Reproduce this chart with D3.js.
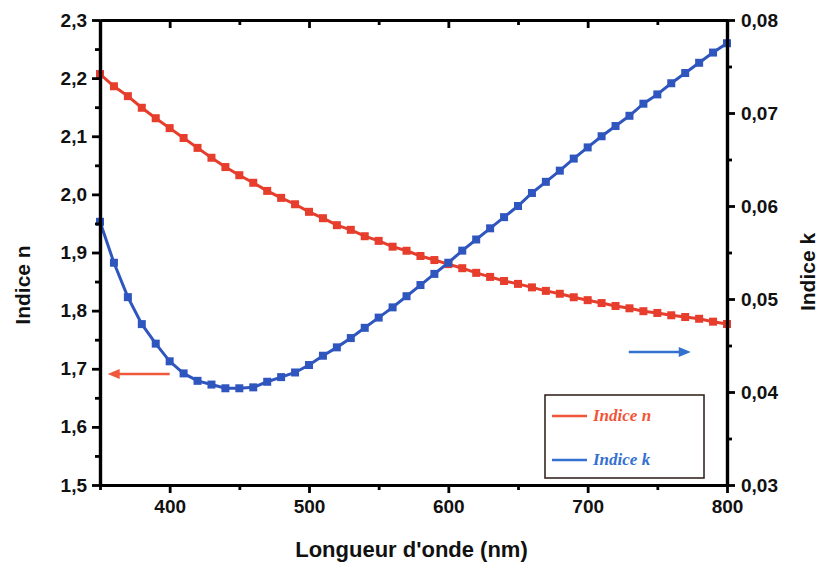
<!DOCTYPE html>
<html><head><meta charset="utf-8">
<script src="https://cdn.jsdelivr.net/npm/d3@7"></script>
<style>body{margin:0;background:#fff;} svg{display:block;}</style>
</head><body>
<svg id="c" width="821" height="567"></svg>
<script>
const wavelengths = d3.range(350, 801, 10);
const indexN = [2.207,2.186,2.169,2.149,2.131,2.114,2.097,2.080,2.063,2.047,
  2.033,2.020,2.006,1.994,1.983,1.970,1.959,1.947,1.939,1.928,
  1.920,1.910,1.903,1.894,1.887,1.880,1.873,1.865,1.858,1.851,
  1.846,1.840,1.834,1.829,1.823,1.818,1.813,1.808,1.804,1.799,
  1.796,1.792,1.789,1.786,1.781,1.777];
const indexK = [0.0583,0.0539,0.0502,0.0473,0.0452,0.0433,0.0420,0.0412,0.0408,0.0404,
  0.0404,0.0405,0.0411,0.0416,0.0421,0.0429,0.0439,0.0448,0.0458,0.0469,
  0.0480,0.0491,0.0503,0.0515,0.0527,0.0539,0.0552,0.0564,0.0576,0.0588,
  0.0600,0.0614,0.0626,0.0638,0.0651,0.0663,0.0675,0.0686,0.0697,0.0710,
  0.0720,0.0732,0.0743,0.0754,0.0765,0.0775];
const xTicks = [400,500,600,700,800];
const xMinor = [350,450,550,650,750];
const nTicks = [1.5,1.6,1.7,1.8,1.9,2.0,2.1,2.2,2.3];
const nMinor = [1.55,1.65,1.75,1.85,1.95,2.05,2.15,2.25];
const kTicks = [0.03,0.04,0.05,0.06,0.07,0.08];
const kMinor = [0.035,0.045,0.055,0.065,0.075];
const seriesNames = ["Indice n","Indice k"];

const RED = "#e63d2c", BLUE = "#2f56bf";
const loc = d3.formatLocale({decimal:",", thousands:".", grouping:[3], currency:["","€"]});
const fN = loc.format(".1f"), fK = loc.format(".2f");

const svg = d3.select("#c");
const L=100, R=727, T=20, B=485;
const x = d3.scaleLinear().domain([350,800]).range([L,R]);
const yN = d3.scaleLinear().domain([1.5,2.3]).range([B,T]);
const yK = d3.scaleLinear().domain([0.03,0.08]).range([B,T]);

const FONT = "'Liberation Sans', Arial, sans-serif";

function styleAxis(g){
  g.select(".domain").attr("stroke","#000").attr("stroke-width",3.2);
  g.selectAll(".tick line").attr("stroke","#000").attr("stroke-width",2.8);
  g.selectAll("text").attr("font-family",FONT).attr("font-weight","bold").attr("font-size",19).attr("fill","#111");
}

const nData = wavelengths.map((w,i)=>({w, v:indexN[i]}));
const kData = wavelengths.map((w,i)=>({w, v:indexK[i]}));
const MS = 8;

svg.append("path").datum(nData)
  .attr("fill","none").attr("stroke",RED).attr("stroke-width",3)
  .attr("d", d3.line().x(d=>x(d.w)).y(d=>yN(d.v)));
svg.append("g").selectAll("rect").data(nData).join("rect")
  .attr("x",d=>x(d.w)-MS/2).attr("y",d=>yN(d.v)-MS/2).attr("width",MS).attr("height",MS)
  .attr("fill",RED);

svg.append("path").datum(kData)
  .attr("fill","none").attr("stroke",BLUE).attr("stroke-width",3)
  .attr("d", d3.line().x(d=>x(d.w)).y(d=>yK(d.v)));
svg.append("g").selectAll("rect").data(kData).join("rect")
  .attr("x",d=>x(d.w)-MS/2).attr("y",d=>yK(d.v)-MS/2).attr("width",MS).attr("height",MS)
  .attr("fill",BLUE);

svg.append("g").attr("transform",`translate(0,${B})`)
  .call(d3.axisBottom(x).tickValues(xTicks).tickSize(8).tickSizeOuter(0).tickPadding(7).tickFormat(d3.format("d"))).call(styleAxis);
svg.append("g").attr("transform",`translate(0,${B})`)
  .call(d3.axisBottom(x).tickValues(xMinor).tickSize(5).tickSizeOuter(0).tickFormat("")).call(styleAxis);
svg.append("g").attr("transform",`translate(0,${T})`)
  .call(d3.axisBottom(x).tickValues(xTicks).tickSize(8).tickSizeOuter(0).tickFormat("")).call(styleAxis);
svg.append("g").attr("transform",`translate(0,${T})`)
  .call(d3.axisBottom(x).tickValues(xMinor.slice(1)).tickSize(5).tickSizeOuter(0).tickFormat("")).call(styleAxis);

svg.append("g").attr("transform",`translate(${L},0)`)
  .call(d3.axisLeft(yN).tickValues(nTicks).tickSize(8).tickSizeOuter(0).tickPadding(5).tickFormat(fN)).call(styleAxis);
svg.append("g").attr("transform",`translate(${L},0)`)
  .call(d3.axisLeft(yN).tickValues(nMinor).tickSize(5).tickSizeOuter(0).tickFormat("")).call(styleAxis);

svg.append("g").attr("transform",`translate(${R},0)`)
  .call(d3.axisRight(yK).tickValues(kTicks).tickSize(8).tickSizeOuter(0).tickPadding(6).tickFormat(fK)).call(styleAxis);
svg.append("g").attr("transform",`translate(${R},0)`)
  .call(d3.axisRight(yK).tickValues(kMinor).tickSize(5).tickSizeOuter(0).tickFormat("")).call(styleAxis);

svg.append("text").attr("x",(L+R)/2-2).attr("y",557).attr("text-anchor","middle")
  .attr("font-family",FONT).attr("font-weight","bold").attr("font-size",22).attr("fill","#111")
  .text("Longueur d'onde (nm)");
svg.append("text").attr("transform","translate(30,285) rotate(-90)").attr("text-anchor","middle")
  .attr("font-family",FONT).attr("font-weight","bold").attr("font-size",21).attr("fill","#111")
  .text("Indice n");
svg.append("text").attr("transform","translate(815,272) rotate(-90)").attr("text-anchor","middle")
  .attr("font-family",FONT).attr("font-weight","bold").attr("font-size",21).attr("fill","#111")
  .text("Indice k");

function arrow(x1,y1,x2,y2,color){
  const dir = Math.sign(x2-x1);
  svg.append("line").attr("x1",x1).attr("y1",y1).attr("x2",x2-dir*9).attr("y2",y2)
    .attr("stroke",color).attr("stroke-width",2.5);
  svg.append("path").attr("d",`M${x2},${y2} L${x2-dir*12},${y2-5} L${x2-dir*12},${y2+5} Z`).attr("fill",color);
}
arrow(x(400), yN(1.691), x(355.5), yN(1.691), "#f0583c");
arrow(x(729.5), yK(0.0443), x(774), yK(0.0443), "#3370cf");

const lg = svg.append("g");
lg.append("rect").attr("x",545).attr("y",395).attr("width",159).attr("height",83)
  .attr("fill","#fff").attr("stroke","#2a1a14").attr("stroke-width",1.5);
const legColors = ["#f0553a","#3370cf"];
seriesNames.forEach((nm,i)=>{
  const yy = 416 + i*44;
  lg.append("line").attr("x1",552).attr("x2",587).attr("y1",yy).attr("y2",yy)
    .attr("stroke",legColors[i]).attr("stroke-width",2.5);
  lg.append("text").attr("x",593).attr("y",yy+5)
    .attr("font-family","'Liberation Serif','Times New Roman',serif").attr("font-weight","bold")
    .attr("font-style","italic").attr("font-size",17).attr("fill",legColors[i]).text(nm);
});
</script>
</body></html>
